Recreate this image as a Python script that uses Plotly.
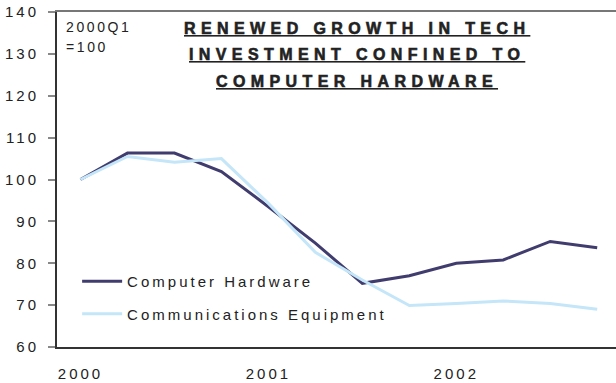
import plotly.graph_objects as go

# Data (quarterly, 2000Q1 = 100)
quarters = ["2000Q1", "2000Q2", "2000Q3", "2000Q4",
            "2001Q1", "2001Q2", "2001Q3", "2001Q4",
            "2002Q1", "2002Q2", "2002Q3", "2002Q4"]
computer_hardware = [100.0, 106.3, 106.3, 101.9, 93.5, 84.8, 75.2, 77.0, 80.0, 80.8, 85.2, 83.7]
communications_eq = [100.0, 105.5, 104.1, 105.0, 94.3, 82.6, 76.0, 69.9, 70.4, 71.0, 70.4, 69.0]
series_names = ["Computer Hardware", "Communications Equipment"]
x_tick_vals = [0, 4, 8]
x_tick_labels = ["2000", "2001", "2002"]
y_tick_vals = [60, 70, 80, 90, 100, 110, 120, 130, 140]
title_lines = ["RENEWED GROWTH IN TECH", "INVESTMENT CONFINED TO", "COMPUTER HARDWARE"]
note_lines = ["2000Q1", "=100"]

FONT = "Liberation Sans, Arial, sans-serif"
TXT = "#222222"

def spaced(s, ls, extra=""):
    return f'<span style="letter-spacing:{ls}px;{extra}">{s}</span>'

xi = list(range(len(quarters)))

fig = go.Figure()
fig.add_trace(go.Scatter(x=xi, y=computer_hardware, mode="lines",
                         name=spaced(series_names[0], 3), legendgroup="a",
                         line=dict(color="#403c6e", width=3)))
fig.add_trace(go.Scatter(x=xi, y=communications_eq, mode="lines",
                         name=spaced(series_names[1], 3), legendgroup="b",
                         line=dict(color="#c4e6f8", width=3)))
# invisible trace for top frame axis
fig.add_trace(go.Scatter(x=[xi[0]], y=[computer_hardware[0]], xaxis="x2",
                         mode="lines", showlegend=False, hoverinfo="skip",
                         line=dict(width=0)))

annotations = []
title_y = [0.952, 0.873, 0.793]
for t, yy in zip(title_lines, title_y):
    annotations.append(dict(
        text="<u>" + spaced(t, 5.4, "font-weight:bold;stroke:#222222;stroke-width:0.6px") + "</u>",
        xref="paper", yref="paper",
        x=0.537, y=yy, xanchor="center", yanchor="middle", showarrow=False,
        font=dict(family=FONT, size=16, color=TXT, weight=700)))
note_y = [0.955, 0.895]
for t, yy in zip(note_lines, note_y):
    annotations.append(dict(
        text=spaced(t, 2.6), xref="paper", yref="paper",
        x=0.012, y=yy, xanchor="left", yanchor="middle", showarrow=False,
        font=dict(family=FONT, size=14, color=TXT)))

fig.update_layout(
    width=616, height=383,
    margin=dict(l=57, r=0, t=12, b=36),
    paper_bgcolor="white", plot_bgcolor="white",
    font=dict(family=FONT, size=15, color=TXT),
    showlegend=True,
    legend=dict(x=0.036, y=0.245, xanchor="left", yanchor="top",
                bgcolor="rgba(0,0,0,0)", font=dict(size=15, color=TXT),
                tracegroupgap=10, traceorder="grouped", itemwidth=40),
    xaxis=dict(range=[-0.5, 11.4], tickvals=x_tick_vals,
               ticktext=[spaced(t, 3) for t in x_tick_labels],
               showgrid=False, zeroline=False, showline=True,
               linecolor="#333333", linewidth=2, ticks="", ticklen=0,
               ticklabelstandoff=12, tickfont=dict(size=15, color=TXT)),
    xaxis2=dict(overlaying="x", side="top", range=[-0.5, 11.4],
                showgrid=False, zeroline=False, showline=True,
                linecolor="#777777", linewidth=1.5, showticklabels=False, ticks=""),
    yaxis=dict(range=[60, 140], tickvals=y_tick_vals,
               ticktext=[spaced(str(v), 3) for v in y_tick_vals],
               showgrid=False, zeroline=False, showline=True,
               linecolor="#333333", linewidth=2, ticks="outside", ticklen=7,
               tickcolor="#888888", tickwidth=1.5, ticklabelstandoff=6,
               tickfont=dict(size=15, color=TXT)),
    annotations=annotations,
)

fig.write_html("out.html")
